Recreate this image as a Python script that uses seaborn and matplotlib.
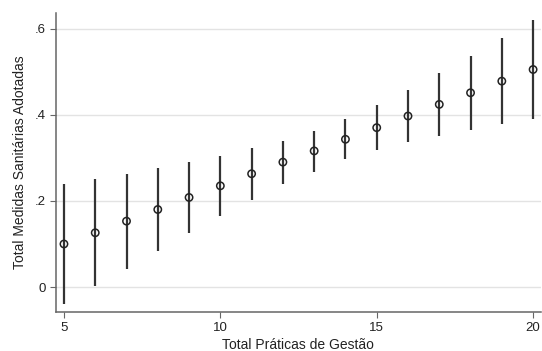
import matplotlib
matplotlib.use("Agg")
import matplotlib.pyplot as plt
import seaborn as sns
import pandas as pd

praticas = [5, 6, 7, 8, 9, 10, 11, 12, 13, 14, 15, 16, 17, 18, 19, 20]
media = [0.100, 0.126, 0.153, 0.180, 0.208, 0.235, 0.263, 0.290, 0.316, 0.343,
         0.370, 0.397, 0.424, 0.451, 0.478, 0.505]
lim_inf = [-0.040, 0.002, 0.043, 0.084, 0.125, 0.164, 0.202, 0.240, 0.268, 0.297,
           0.317, 0.336, 0.351, 0.365, 0.378, 0.391]
lim_sup = [0.240, 0.250, 0.263, 0.276, 0.290, 0.305, 0.323, 0.340, 0.363, 0.390,
           0.423, 0.458, 0.497, 0.537, 0.577, 0.619]
x_ticks = [5, 10, 15, 20]
y_ticks = [0, 0.2, 0.4, 0.6]
y_tick_labels = ["0", ".2", ".4", ".6"]

df = pd.DataFrame({"praticas": praticas, "media": media,
                   "inf": lim_inf, "sup": lim_sup})

sns.set_theme(style="white")
plt.rcParams["font.family"] = ["Liberation Sans", "DejaVu Sans"]

fig = plt.figure(figsize=(5.42, 3.51), dpi=100)
ax = fig.add_axes([0.103, 0.111, 0.895, 0.853])

ax.vlines(df["praticas"], df["inf"], df["sup"], color="#333333", linewidth=1.6, zorder=3)
sns.scatterplot(data=df, x="praticas", y="media", ax=ax, marker="o", s=28,
                facecolor="none", edgecolor="#222222", linewidth=1.1, zorder=4)

ax.set_xlim(4.74, 20.25)
ax.set_ylim(-0.058, 0.637)
ax.set_xticks(x_ticks)
ax.set_xticklabels([str(v) for v in x_ticks])
ax.set_yticks(y_ticks)
ax.set_yticklabels(y_tick_labels)

ax.yaxis.grid(True, color="#e3e3e3", linewidth=1.0)
ax.xaxis.grid(False)
ax.set_axisbelow(True)

for s in ["top", "right"]:
    ax.spines[s].set_visible(False)
for s in ["left", "bottom"]:
    ax.spines[s].set_color("#666666")
    ax.spines[s].set_linewidth(1.1)

ax.tick_params(axis="both", which="both", direction="out", length=4, width=0.8,
               color="#666666", labelsize=9.5, labelcolor="#222222",
               bottom=True, left=True, pad=3)

ax.set_xlabel("Total Práticas de Gestão", fontsize=10, color="#222222", labelpad=3)
ax.set_ylabel("Total Medidas Sanitárias Adotadas", fontsize=10, color="#222222", labelpad=6)

fig.savefig("out.png", dpi=100)
